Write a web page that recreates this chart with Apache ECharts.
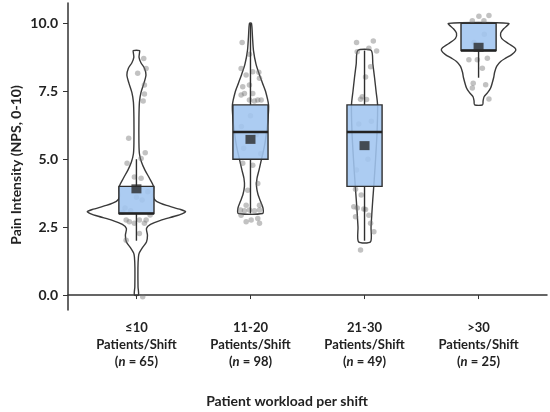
<!DOCTYPE html>
<html><head><meta charset="utf-8">
<script src="https://cdn.jsdelivr.net/npm/echarts@6/dist/echarts.min.js"></script>
<style>html,body{margin:0;padding:0;background:#fff}#c{width:550px;height:412px}</style>
</head><body><div id="c"></div>
<script>
// ---------- data ----------
const categories = ['≤10', '11-20', '21-30', '>30'];
const groupSizes = [65, 98, 49, 25];
const yTicks = [0, 2.5, 5, 7.5, 10];
const q1 = [3, 5, 4, 9];
const medians = [3, 6, 6, 9];
const q3 = [4, 7, 7, 10];
const whiskerLow = [2, 3, 2, 8];
const whiskerHigh = [5, 10, 9, 10];
const means = [3.91, 5.73, 5.5, 9.12];

// violin density profiles: [pain value, relative density]
const violin1 = [[0.0,0.04],[0.3,0.032],[1.0,0.03],[1.4,0.04],[1.55,0.056],[1.75,0.12],[1.95,0.2],[2.2,0.22],[2.45,0.2],[2.6,0.28],[2.75,0.48],[2.9,0.76],[3.0,0.92],[3.07,0.98],[3.15,0.88],[3.3,0.6],[3.45,0.4],[3.6,0.34],[4.0,0.34],[4.3,0.26],[4.6,0.17],[4.9,0.1],[5.2,0.06],[5.6,0.05],[6.5,0.05],[7.1,0.06],[7.45,0.09],[7.8,0.15],[8.1,0.19],[8.35,0.16],[8.55,0.09],[8.75,0.052],[8.9,0.06],[9.0,0.064]];
const violin2 = [[3.0,0.24],[3.2,0.25],[3.45,0.2],[3.7,0.15],[4.0,0.12],[4.3,0.13],[4.6,0.17],[5.0,0.22],[5.5,0.28],[6.0,0.32],[6.5,0.35],[7.0,0.36],[7.5,0.3],[7.8,0.24],[8.1,0.18],[8.5,0.11],[9.0,0.06],[9.5,0.04],[10.0,0.02]];
const violin3 = [[1.96,0.12],[2.5,0.13],[3.0,0.146],[3.5,0.164],[4.0,0.184],[5.0,0.22],[6.0,0.25],[7.0,0.26],[7.5,0.23],[8.0,0.2],[8.5,0.166],[9.0,0.134]];
const violin4 = [[7.0,0.08],[7.15,0.09],[7.3,0.11],[7.45,0.18],[7.62,0.24],[8.0,0.3],[8.2,0.32],[8.42,0.36],[8.6,0.44],[8.72,0.54],[8.85,0.66],[9.0,0.74],[9.1,0.72],[9.25,0.6],[9.45,0.46],[9.64,0.44],[9.8,0.5],[10.0,0.6]];

// jittered observations: [horizontal jitter, pain value]
const points1 = [[0.064,8.71],[0.085,8.34],[0.011,8.16],[0.07,7.73],[0.07,7.40],[0.059,7.14],[-0.068,5.77],[0.077,5.24],[0.041,5.03],[-0.082,4.85],[-0.018,4.35],[0.041,4.30],[-0.09,2.76],[-0.062,2.70],[-0.018,2.64],[0.026,2.76],[0.085,2.76],[0.07,2.64],[-0.09,2.02],[0.026,2.27],[0.055,-0.06],[-0.1,3.2],[0.05,3.5],[0.1,3.8],[-0.05,3.1],[0.0,3.6],[-0.12,3.05],[0.12,2.95]];
const points2 = [[-0.073,9.30],[-0.009,8.86],[-0.082,8.34],[0.02,8.22],[0.073,8.20],[-0.038,8.10],[0.079,7.98],[-0.068,7.67],[-0.009,7.73],[-0.082,7.36],[-0.053,7.42],[0.02,7.42],[-0.009,7.18],[0.035,7.14],[0.064,7.18],[0.094,7.18],[0.02,4.78],[-0.068,4.85],[0.064,4.11],[-0.024,3.86],[-0.038,3.31],[0.079,3.31],[-0.088,3.13],[-0.053,3.10],[-0.009,3.13],[0.035,3.10],[0.079,3.13],[-0.082,2.94],[0.006,2.76],[0.064,2.82],[0.079,2.64],[-0.038,2.70],[-0.06,5.4],[0.05,5.9],[0.0,6.6],[-0.08,6.2],[0.09,5.2]];
const points3 = [[-0.07,9.30],[0.077,9.35],[-0.064,8.96],[0.038,9.08],[0.106,8.98],[0.053,8.40],[0.009,8.03],[-0.02,7.30],[-0.035,7.21],[0.018,7.20],[-0.079,3.89],[-0.029,3.68],[-0.094,3.25],[-0.064,3.20],[-0.006,3.17],[0.009,3.15],[0.038,2.94],[-0.079,2.88],[0.053,2.64],[0.082,2.33],[-0.035,1.66],[-0.05,6.3],[0.06,6.4],[0.03,5.0],[-0.07,4.6]];
const points4 = [[-0.055,10.1],[0.003,10.26],[0.091,10.29],[0.047,10.1],[-0.085,8.66],[-0.011,8.66],[0.077,8.72],[0.033,8.35],[-0.047,7.80],[0.062,7.74],[-0.055,7.62],[0.091,7.22],[0.05,9.6],[-0.04,9.3]];

// ---------- build ----------
const violins = [violin1, violin2, violin3, violin4];
const pointSets = [points1, points2, points3, points4];
const DENS = 0.44;      // density -> x-axis units
const BOX_HW = 0.154;   // box half-width in x units
const TXT = '#222';
const FONT = 'Lato';

const scatterData = [];
pointSets.forEach((ps, i) => ps.forEach(p => scatterData.push([i + 1 + p[0], p[1]])));

const chart = echarts.init(document.getElementById('c'), null, {renderer: 'canvas'});
chart.setOption({
  animation: false,
  backgroundColor: '#fff',
  grid: {left: 68, right: 3, top: 3, bottom: 102},
  xAxis: {
    type: 'value', min: 0.4, max: 4.6,
    splitLine: {show: false},
    axisLine: {show: true, lineStyle: {color: '#333', width: 1.5}},
    axisTick: {show: true, length: 4, customValues: [1, 2, 3, 4], lineStyle: {color: '#333'}},
    axisLabel: {
      customValues: [1, 2, 3, 4], margin: 9,
      formatter: v => {
        const i = Math.round(v) - 1;
        return '{b|' + categories[i] + '}\n{b|Patients/Shift}\n{b|(}{i|n}{b| = ' + groupSizes[i] + ')}';
      },
      rich: {
        b: {fontFamily: FONT, fontWeight: 'bold', fontSize: 13, color: TXT, lineHeight: 17},
        i: {fontFamily: FONT, fontWeight: 'bold', fontStyle: 'italic', fontSize: 13, color: TXT, lineHeight: 17}
      }
    }
  },
  yAxis: {
    type: 'value', min: -0.55, max: 10.75,
    splitLine: {show: false},
    axisLine: {show: true, lineStyle: {color: '#333', width: 1.5}},
    axisTick: {show: true, length: 5, customValues: yTicks, lineStyle: {color: '#333'}},
    axisLabel: {customValues: yTicks, margin: 10, formatter: v => v.toFixed(1),
      fontFamily: FONT, fontWeight: 'bold', fontSize: 14, color: TXT}
  },
  graphic: [
    {type: 'text', x: 16, y: 165, rotation: Math.PI / 2,
     style: {text: 'Pain Intensity (NPS, 0-10)', font: 'bold 14px Lato', fill: TXT, textAlign: 'center', textVerticalAlign: 'middle'}},
    {type: 'text', x: 287, y: 401,
     style: {text: 'Patient workload per shift', font: 'bold 14px Lato', fill: TXT, textAlign: 'center', textVerticalAlign: 'middle'}}
  ],
  series: [
    {
      type: 'custom', z: 1,
      data: [[1], [2], [3], [4]],
      renderItem: (params, api) => {
        const c = api.value(0);
        const prof = violins[params.dataIndex];
        const pts = [];
        prof.forEach(p => pts.push(api.coord([c - p[1] * DENS, p[0]])));
        for (let k = prof.length - 1; k >= 0; k--) pts.push(api.coord([c + prof[k][1] * DENS, prof[k][0]]));
        return {type: 'polygon', shape: {points: pts, smooth: 0.25},
          style: {fill: 'none', stroke: '#3a3a3a', lineWidth: 1.4}};
      }
    },
    {
      type: 'scatter', z: 2, symbolSize: 5.5,
      itemStyle: {color: 'rgba(115,115,115,0.55)'},
      data: scatterData
    },
    {
      type: 'custom', z: 3,
      data: categories.map((_, i) => [i + 1, whiskerLow[i], q1[i], medians[i], q3[i], whiskerHigh[i]]),
      renderItem: (params, api) => {
        const c = api.value(0);
        const lo = api.coord([c, api.value(1)]), a = api.coord([c, api.value(2)]);
        const b = api.coord([c, api.value(4)]), hi = api.coord([c, api.value(5)]);
        const tl = api.coord([c - BOX_HW, api.value(4)]), br = api.coord([c + BOX_HW, api.value(2)]);
        const ml = api.coord([c - BOX_HW, api.value(3)]), mr = api.coord([c + BOX_HW, api.value(3)]);
        const ls = {stroke: '#2f2f2f', lineWidth: 1.4};
        return {type: 'group', children: [
          {type: 'line', shape: {x1: lo[0], y1: lo[1], x2: a[0], y2: a[1]}, style: ls},
          {type: 'line', shape: {x1: b[0], y1: b[1], x2: hi[0], y2: hi[1]}, style: ls},
          {type: 'rect', shape: {x: tl[0], y: tl[1], width: br[0] - tl[0], height: br[1] - tl[1]},
           style: {fill: 'rgba(160,197,240,0.88)', stroke: '#2f2f2f', lineWidth: 1.4}},
          {type: 'line', shape: {x1: ml[0], y1: ml[1], x2: mr[0], y2: mr[1]}, style: {stroke: '#222', lineWidth: 2.6}}
        ]};
      }
    },
    {
      type: 'scatter', z: 4, symbol: 'rect', symbolSize: [10, 9],
      itemStyle: {color: '#2a2a2a'},
      data: means.map((m, i) => [i + 1, m])
    }
  ]
});
</script></body></html>
